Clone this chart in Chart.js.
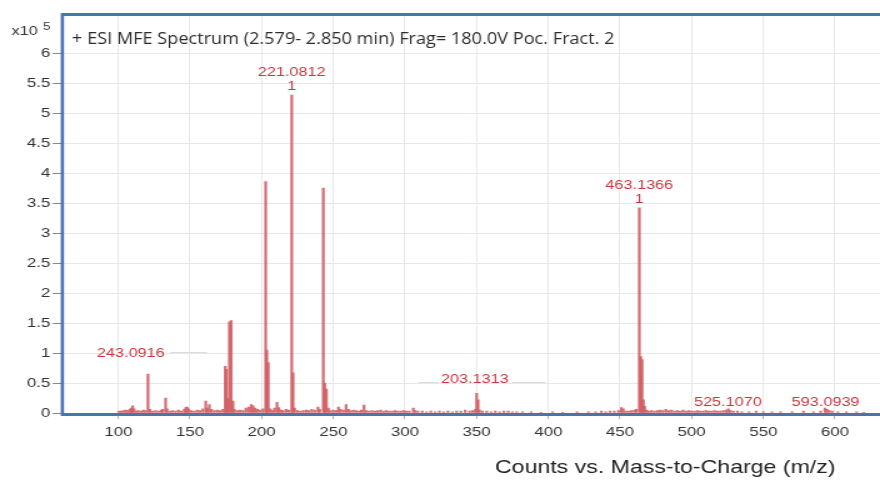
<!DOCTYPE html>
<html><head><meta charset="utf-8">
<script src="https://cdn.jsdelivr.net/npm/chart.js@4/dist/chart.umd.min.js"></script>
<style>html,body{margin:0;padding:0;background:#fff;overflow:hidden}</style></head>
<body><canvas id="c" width="704" height="483" style="display:block;width:880px;height:483px"></canvas>
<script>
// m/z of each spectral line and its counts (x10^5)
const mzValues = [
  100.5,102,103.5,105,106.5,108,109,110,111,112.5,
  114,116,117.5,119,120.7,122,124,126,128,130,
  131,133,134,136,138,140,142,144,146,147,
  148,149,151,153,155,157,159,161,162,163.5,
  165,167,169,171,173,174.6,175.3,176.4,177.5,178.7,
  180,181,183,185,187,189,191,192.8,194,195.5,
  197,199,201,202.8,203.6,204.6,206,207.5,209,210.7,
  212,213.5,215,217,219,221,221.9,223,225,227,
  229,231,233,235,237,239.3,240.5,243,244,245.2,
  246.5,248,250,252,253.6,255,257,258.9,260.5,262,
  264,266,268,269.5,271.4,273,275,277,279,281,
  283,285,287,289,291,293,295,297,299,301,
  303,305.8,307,309,312,315,318,321,324,327,
  330,333,336,339,342,345,347,349,350,351,
  352,354,357,360,363,366,369,372,375,378,
  382,388,395,403,410,420,428,433,437,440,
  443,446,449,451,452.3,454,456,458,460,461.5,
  463.5,464.5,465.4,466.3,467.2,468.5,470,472,474,476,
  478,480,482,484,486,488,490,492,494,496,
  498,500,502,504,506,508,510,512,514,516,
  518,520,522,524,525.6,527,529,532,535,540,
  545,550,556,562,570,578,585,590,593,594.5,
  596,598,602,608,615,620
];
const countValues = [
  0.03,0.03,0.04,0.05,0.04,0.06,0.08,0.12,0.07,0.03,
  0.04,0.03,0.05,0.04,0.65,0.06,0.03,0.04,0.03,0.05,
  0.06,0.25,0.07,0.03,0.04,0.03,0.05,0.03,0.06,0.09,
  0.10,0.07,0.04,0.03,0.05,0.04,0.07,0.20,0.08,0.14,
  0.06,0.04,0.05,0.04,0.06,0.78,0.73,0.24,1.52,1.54,
  0.20,0.06,0.04,0.05,0.04,0.08,0.10,0.14,0.12,0.08,
  0.06,0.05,0.07,3.86,1.05,0.84,0.07,0.04,0.08,0.18,
  0.09,0.05,0.04,0.06,0.05,5.30,0.67,0.08,0.04,0.03,
  0.04,0.05,0.04,0.06,0.05,0.10,0.06,3.75,0.50,0.40,
  0.08,0.04,0.05,0.04,0.10,0.06,0.05,0.14,0.06,0.04,
  0.05,0.04,0.03,0.05,0.13,0.04,0.03,0.04,0.03,0.04,
  0.05,0.03,0.04,0.03,0.03,0.04,0.03,0.03,0.04,0.03,
  0.03,0.08,0.04,0.03,0.03,0.02,0.03,0.02,0.03,0.02,
  0.03,0.02,0.03,0.03,0.05,0.03,0.04,0.06,0.33,0.22,
  0.05,0.03,0.03,0.02,0.03,0.02,0.03,0.03,0.02,0.02,
  0.02,0.02,0.01,0.02,0.01,0.02,0.02,0.02,0.03,0.02,
  0.03,0.03,0.04,0.09,0.07,0.03,0.03,0.04,0.05,0.06,
  3.42,0.94,0.89,0.22,0.11,0.05,0.03,0.04,0.03,0.04,
  0.05,0.04,0.06,0.04,0.05,0.03,0.04,0.03,0.05,0.03,
  0.04,0.03,0.03,0.04,0.03,0.03,0.04,0.03,0.03,0.04,
  0.03,0.03,0.04,0.05,0.07,0.04,0.03,0.03,0.02,0.02,
  0.03,0.02,0.02,0.02,0.02,0.03,0.02,0.03,0.08,0.06,
  0.04,0.03,0.02,0.02,0.02,0.01
];
const xTicks = [100,150,200,250,300,350,400,450,500,550,600];
const yTicks = [0,0.5,1,1.5,2,2.5,3,3.5,4,4.5,5,5.5,6];

// labelled peaks (text above the peak, charge state below)
const peakLabelText = ['221.0812','463.1366'];
const peakLabelCharge = ['1','1'];
const peakLabelMz = [221,463.5];
const peakLabelCounts = [5.30,3.42];

// free-standing annotations (anchor m/z, anchor counts)
const noteText = ['243.0916','203.1313','525.1070','593.0939'];
const noteMz = [85.1,325.1,501.6,569.8];
const noteCounts = [0.93,0.50,0.12,0.12];

// faint guide lines [m/z start, m/z end, counts]
const guideStart = [136.2,309.2,374.6];
const guideEnd = [162.0,323.5,397.8];
const guideCounts = [1.02,0.52,0.52];

const titleText = '+ ESI MFE Spectrum (2.579- 2.850 min) Frag= 180.0V Poc. Fract. 2';
const xTitleText = 'Counts vs. Mass-to-Charge (m/z)';

const SANS = '"Liberation Sans", Arial, sans-serif';
const labelRed = '#c9373d';
const frameBlue = '#4a73b2';

const points = mzValues.map((m,i)=>({x:m, y:countValues[i]}));

const overlay = {
  id:'overlay',
  afterDraw(chart){
    const {ctx, chartArea:a, scales:{x, y}} = chart;
    ctx.save();
    // guide lines
    ctx.strokeStyle = '#dcdcdc'; ctx.lineWidth = 1;
    guideStart.forEach((s,i)=>{
      const py = Math.round(y.getPixelForValue(guideCounts[i]))+0.5;
      ctx.beginPath(); ctx.moveTo(x.getPixelForValue(s),py); ctx.lineTo(x.getPixelForValue(guideEnd[i]),py); ctx.stroke();
    });
    // peak labels
    ctx.fillStyle = labelRed; ctx.font = '13px '+SANS; ctx.textBaseline = 'alphabetic';
    ctx.textAlign = 'center';
    peakLabelText.forEach((t,i)=>{
      const px = x.getPixelForValue(peakLabelMz[i]);
      const py = y.getPixelForValue(peakLabelCounts[i]);
      ctx.fillText(t, px, py-19);
      ctx.fillText(peakLabelCharge[i], px, py-5);
    });
    ctx.textAlign = 'left';
    noteText.forEach((t,i)=>{
      ctx.fillText(t, x.getPixelForValue(noteMz[i]), y.getPixelForValue(noteCounts[i]));
    });
    // frame
    ctx.strokeStyle = frameBlue;
    ctx.lineWidth = 3;
    ctx.beginPath();
    ctx.moveTo(a.left-1.3, a.top-1.5); ctx.lineTo(chart.width+5, a.top-1.5);
    ctx.moveTo(a.left-1.3, a.bottom+1.5); ctx.lineTo(chart.width+5, a.bottom+1.5);
    ctx.stroke();
    ctx.lineWidth = 2.6;
    ctx.beginPath();
    ctx.moveTo(a.left-1.3, a.top-3); ctx.lineTo(a.left-1.3, a.bottom+3);
    ctx.stroke();
    // multiplier
    ctx.fillStyle = '#333';
    ctx.font = '13px '+SANS;
    ctx.fillText('x10', 9.2, 34.5);
    ctx.font = '10.5px '+SANS;
    ctx.fillText('5', 34.6, 29.5);
    // title
    ctx.font = '16.5px "Open Sans", sans-serif';
    const tw = ctx.measureText(titleText).width;
    ctx.save();
    ctx.translate(57.6, 44.3);
    ctx.scale(434/tw, 1);
    ctx.fillStyle = '#2b2b2b';
    ctx.fillText(titleText, 0, 0);
    ctx.restore();
    // x axis title
    ctx.fillStyle = '#222';
    ctx.font = '18.5px '+SANS;
    ctx.fillText(xTitleText, 396, 473.3);
    ctx.restore();
  }
};

new Chart(document.getElementById('c'), {
  type:'bar',
  data:{datasets:[{
    data:points,
    backgroundColor:'rgba(208,94,100,0.9)',
    borderWidth:0,
    barThickness:1.6
  }]},
  options:{
    responsive:false,
    devicePixelRatio:1,
    animation:false,
    events:[],
    layout:{padding:{top:16,left:0,right:0,bottom:0}},
    plugins:{legend:{display:false},tooltip:{enabled:false},title:{display:false}},
    scales:{
      x:{
        type:'linear', min:62.1, max:631.4, offset:false,
        afterBuildTicks:s=>{s.ticks = xTicks.map(v=>({value:v}));},
        afterFit:s=>{s.height = 70;},
        grid:{color:'#e8e8e8', tickColor:'#b0b0b0', tickLength:6, offset:false, lineWidth:1},
        border:{display:false},
        ticks:{font:{family:SANS,size:13.5}, color:'#333', padding:5.2, maxRotation:0, autoSkip:false}
      },
      y:{
        type:'linear', min:0, max:6.62,
        afterBuildTicks:s=>{s.ticks = yTicks.map(v=>({value:v}));},
        afterFit:s=>{s.width = 51.2;},
        grid:{color:'#e8e8e8', tickColor:'#888', tickLength:9, lineWidth:1},
        border:{display:false},
        ticks:{font:{family:SANS,size:13.5}, color:'#333', padding:2, autoSkip:false,
          callback:v=>String(v)}
      }
    }
  },
  plugins:[overlay]
});
</script>
</body></html>
